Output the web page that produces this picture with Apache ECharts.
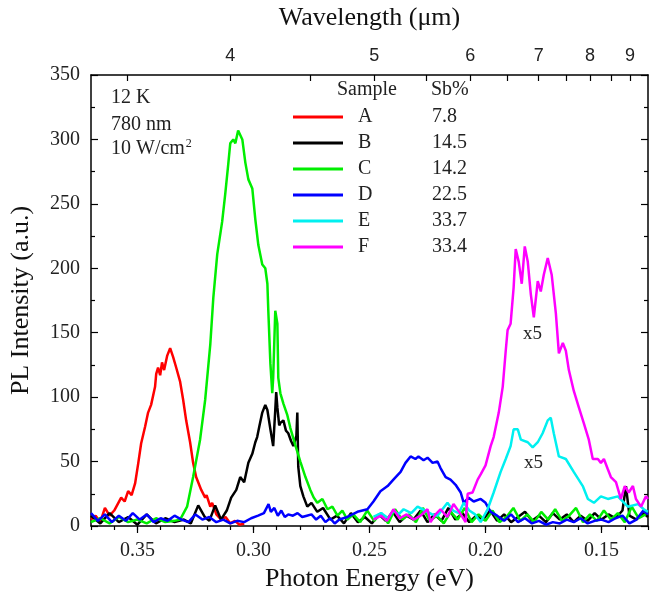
<!DOCTYPE html>
<html>
<head>
<meta charset="utf-8">
<script src="https://cdn.jsdelivr.net/npm/echarts@6/dist/echarts.min.js"></script>
<style>
  html, body { margin: 0; padding: 0; background: #fff; }
  #chart { width: 651px; height: 597px; }
</style>
</head>
<body>
<div id="chart"></div>
<script>
// photon energy (eV) / PL intensity (a.u.) per sample
const eA = [0.370,0.368,0.366,0.364,0.362,0.360,0.3585,0.357,0.3555,0.354,0.3525,0.351,0.3497,0.3484,0.3467,0.3454,0.3441,0.3424,0.3419,0.3411,0.3402,0.3394,0.3385,0.3372,0.3359,0.3346,0.3333,0.3316,0.3303,0.329,0.3273,0.326,0.3247,0.3225,0.3208,0.3202,0.3186,0.3178,0.316,0.3139,0.312,0.310,0.308,0.306,0.304];
const iA = [5,8,3,14,8,12,17,22,19,27,24,33,48,64,77,88,94,108,118,123,117,127,121,132,138,131,123,112,98,82,65,49,38,28,22,24,15,18,9,5,7,2,4,1,2];

const eB = [0.370,0.366,0.362,0.358,0.354,0.350,0.346,0.342,0.338,0.334,0.330,0.327,0.3238,0.321,0.319,0.3165,0.314,0.3115,0.3096,0.3074,0.3057,0.304,0.3022,0.3005,0.2992,0.2984,0.2975,0.2962,0.2949,0.294,0.2927,0.2915,0.2906,0.2902,0.2897,0.2889,0.2884,0.2871,0.286,0.285,0.2838,0.2828,0.2815,0.2811,0.2807,0.2798,0.2785,0.2768,0.275,0.2725,0.270,0.2668,0.264,0.261,0.258,0.255,0.252,0.249,0.246,0.243,0.240,0.237,0.234,0.231,0.228,0.225,0.222,0.219,0.216,0.213,0.210,0.207,0.204,0.201,0.198,0.195,0.192,0.189,0.186,0.183,0.180,0.177,0.174,0.171,0.168,0.165,0.162,0.159,0.156,0.153,0.150,0.147,0.144,0.141,0.1395,0.138,0.135,0.132,0.130];
const iB = [8,2,10,3,7,1,9,2,6,3,5,2,16,7,4,16,5,12,22,28,38,34,49,56,65,69,77,88,94,90,75,62,90,104,92,78,80,82,74,72,66,62,70,88,46,31,23,15,18,11,14,5,8,2,10,3,7,2,9,4,11,3,8,5,12,3,9,4,14,5,10,3,8,5,12,4,9,3,7,11,4,8,3,10,5,9,3,8,4,10,5,9,6,12,31,8,5,10,7];

const eC = [0.370,0.366,0.362,0.358,0.354,0.350,0.346,0.342,0.338,0.334,0.3316,0.3286,0.326,0.323,0.3208,0.3186,0.3173,0.3156,0.3135,0.3122,0.3109,0.310,0.3087,0.3078,0.3066,0.3048,0.3035,0.3022,0.3005,0.2992,0.2979,0.2962,0.2949,0.294,0.2936,0.2927,0.2919,0.2915,0.2906,0.2897,0.2893,0.2884,0.2871,0.2854,0.2841,0.282,0.2798,0.2776,0.2755,0.274,0.2725,0.2703,0.2681,0.266,0.2638,0.2617,0.2595,0.257,0.254,0.251,0.248,0.245,0.242,0.239,0.236,0.233,0.230,0.227,0.224,0.221,0.218,0.215,0.212,0.209,0.206,0.203,0.200,0.197,0.194,0.191,0.188,0.185,0.182,0.179,0.176,0.173,0.170,0.167,0.164,0.161,0.158,0.155,0.152,0.149,0.146,0.143,0.140,0.137,0.134,0.131];
const iC = [3,6,2,7,3,5,2,6,3,4,5,15,38,67,98,141,177,211,236,257,280,297,300,297,307,300,282,269,262,238,218,203,200,188,167,126,103,115,167,157,115,103,95,86,76,63,50,38,28,22,18,21,13,15,8,12,5,9,3,12,4,10,2,13,5,9,3,14,4,8,2,11,5,14,3,9,4,12,3,7,14,4,9,3,11,5,13,4,8,14,3,9,4,12,5,10,3,15,6,9];

const eD = [0.370,0.367,0.364,0.361,0.358,0.355,0.352,0.349,0.346,0.343,0.340,0.337,0.334,0.331,0.328,0.325,0.322,0.319,0.316,0.313,0.310,0.307,0.304,0.301,0.298,0.2955,0.2935,0.2925,0.291,0.2895,0.288,0.2865,0.285,0.283,0.281,0.279,0.277,0.275,0.273,0.271,0.269,0.267,0.265,0.263,0.2595,0.2552,0.2509,0.2483,0.2453,0.2422,0.2397,0.2366,0.2345,0.2323,0.2302,0.2289,0.2267,0.225,0.2228,0.2207,0.2194,0.2172,0.2151,0.2129,0.2107,0.2094,0.2073,0.2051,0.2021,0.200,0.1978,0.195,0.192,0.189,0.186,0.183,0.180,0.177,0.174,0.171,0.168,0.165,0.162,0.159,0.156,0.153,0.150,0.147,0.144,0.141,0.138,0.135,0.132,0.130];
const iD = [10,4,9,3,8,4,10,5,9,3,6,4,8,5,3,9,5,7,3,5,2,4,3,6,8,10,17,11,14,8,12,7,9,8,10,7,8,9,5,8,3,6,2,5,7,11,13,19,27,31,36,42,49,54,52,54,51,53,49,50,45,38,36,32,26,18,22,19,21,18,11,8,4,9,3,6,2,4,1,3,2,5,3,6,2,4,5,3,6,8,2,5,12,9];

const eE = [0.2483,0.245,0.242,0.2397,0.2375,0.2353,0.232,0.2293,0.226,0.223,0.2207,0.219,0.2164,0.214,0.2115,0.2094,0.207,0.2045,0.2021,0.1991,0.1965,0.1935,0.1913,0.1892,0.1879,0.1861,0.1848,0.1818,0.1797,0.1775,0.1754,0.1732,0.1719,0.1706,0.1684,0.1654,0.162,0.1581,0.1559,0.1533,0.1503,0.1473,0.143,0.1387,0.1343,0.1318,0.130];
const iE = [7,10,6,12,9,13,10,15,12,9,8,12,18,12,10,18,12,9,3,13,26,42,52,62,75,75,67,65,61,65,72,82,84,72,54,52,42,31,21,18,23,21,23,15,17,13,11];

const eF = [0.2483,0.245,0.2425,0.2397,0.237,0.234,0.231,0.228,0.225,0.2237,0.2215,0.2194,0.2165,0.2138,0.211,0.2086,0.2077,0.2056,0.2034,0.2021,0.200,0.1978,0.1965,0.1943,0.1926,0.1913,0.1905,0.1892,0.1879,0.187,0.1857,0.1844,0.1831,0.1818,0.1805,0.1792,0.1775,0.1762,0.1749,0.1732,0.1715,0.1697,0.1684,0.1667,0.1654,0.1641,0.162,0.1598,0.1577,0.1555,0.1538,0.1516,0.1503,0.149,0.1473,0.146,0.1438,0.1417,0.140,0.1383,0.1365,0.1352,0.133,0.1309,0.130];
const iF = [5,8,4,13,6,9,5,8,13,3,9,13,7,17,10,3,25,26,36,40,47,62,69,88,108,136,152,157,185,215,205,188,217,205,180,162,190,182,195,208,195,165,134,142,136,121,105,92,80,67,52,52,49,52,44,38,34,21,31,26,31,21,15,23,21];

const samples = ["A", "B", "C", "D", "E", "F"];
const sbPct = ["7.8", "14.5", "14.2", "22.5", "33.7", "33.4"];
const colors = ["#ff0000", "#000000", "#00ee00", "#0000ff", "#00f0f0", "#ff00ff"];
const energies = [eA, eB, eC, eD, eE, eF];
const intensities = [iA, iB, iC, iD, iE, iF];

// tick labels
const energyTicks = [0.15, 0.20, 0.25, 0.30, 0.35];
const wlLabels = [4, 5, 6, 7, 8, 9];
const wlTicks = [3.5, 4, 4.5, 5, 5.5, 6, 6.5, 7, 7.5, 8, 8.5, 9];
const HC = 1.2398; // eV*um

const serif = "Liberation Serif";
const chart = echarts.init(document.getElementById("chart"));

const axisBase = {
  type: "value",
  min: 0.13,
  max: 0.37,
  inverse: true,
  splitLine: { show: false }
};

chart.setOption({
  animation: false,
  backgroundColor: "#fff",
  grid: { left: 91, right: 3, top: 72, bottom: 70 },
  legend: {
    orient: "vertical",
    left: 293,
    top: 107,
    padding: 0,
    icon: "rect",
    itemWidth: 50,
    itemHeight: 3,
    itemGap: 6,
    data: samples,
    formatter: function (name) {
      return "{n|" + name + "}{v|" + sbPct[samples.indexOf(name)] + "}";
    },
    textStyle: {
      fontFamily: serif,
      fontSize: 20,
      color: "#222",
      rich: {
        n: { width: 74, padding: [0, 0, 0, 10], fontFamily: serif, fontSize: 20 },
        v: { fontFamily: serif, fontSize: 20 }
      }
    }
  },
  graphic: [
    { type: "text", left: 337, top: 80, style: { text: "Sample", font: "20px " + serif, fill: "#222" } },
    { type: "text", left: 431, top: 80, style: { text: "Sb%", font: "20px " + serif, fill: "#222" } },
    { type: "text", left: 111, top: 88, style: { text: "12 K", font: "20px " + serif, fill: "#222" } },
    { type: "text", left: 111, top: 115, style: { text: "780 nm", font: "20px " + serif, fill: "#222" } },
    {
      type: "text", left: 111, top: 138,
      style: {
        text: "{t|10 W/cm}{s|2}",
        rich: {
          t: { font: "20px " + serif, fill: "#222", verticalAlign: "bottom" },
          s: { font: "12px " + serif, fill: "#222", verticalAlign: "top", padding: [0, 0, 9, 1] }
        }
      }
    },
    { type: "text", left: 523, top: 325, style: { text: "x5", font: "19px " + serif, fill: "#222" } },
    { type: "text", left: 524, top: 454, style: { text: "x5", font: "19px " + serif, fill: "#222" } }
  ],
  xAxis: [
    Object.assign({}, axisBase, {
      position: "bottom",
      name: "Photon Energy (eV)",
      nameLocation: "middle",
      nameGap: 40,
      nameTextStyle: { fontFamily: serif, fontSize: 26, color: "#111" },
      axisLine: { lineStyle: { color: "#000", width: 1.5 } },
      axisTick: { customValues: energyTicks, length: 7, lineStyle: { color: "#000", width: 1.2 } },
      axisLabel: {
        customValues: energyTicks,
        margin: 15,
        fontFamily: serif,
        fontSize: 20,
        color: "#222",
        formatter: function (v) { return v.toFixed(2); }
      }
    }),
    Object.assign({}, axisBase, {
      position: "bottom",
      interval: 0.01,
      axisLine: { show: false },
      axisTick: { length: 4, lineStyle: { color: "#000", width: 1.2 } },
      axisLabel: { show: false }
    }),
    Object.assign({}, axisBase, {
      position: "top",
      name: "Wavelength (\u03bcm)",
      nameLocation: "middle",
      nameGap: 44,
      nameTextStyle: { fontFamily: serif, fontSize: 26, color: "#111" },
      axisLine: { lineStyle: { color: "#000", width: 1.5 } },
      axisTick: {
        inside: true,
        length: 6,
        customValues: wlTicks.map(function (w) { return HC / w; }),
        lineStyle: { color: "#000", width: 1.2 }
      },
      axisLabel: {
        customValues: wlLabels.map(function (w) { return HC / w; }),
        margin: 10,
        fontFamily: "Liberation Sans",
        fontSize: 18,
        color: "#222",
        formatter: function (v) { return String(Math.round(HC / v)); }
      }
    })
  ],
  yAxis: [
    {
      type: "value",
      position: "left",
      min: 0,
      max: 350,
      interval: 50,
      name: "PL Intensity (a.u.)",
      nameLocation: "middle",
      nameGap: 57,
      nameTextStyle: { fontFamily: serif, fontSize: 26, color: "#111" },
      splitLine: { show: false },
      axisLine: { show: true, lineStyle: { color: "#000", width: 1.5 } },
      axisTick: { show: true, inside: true, length: 7, lineStyle: { color: "#000", width: 1.2 } },
      minorTick: { show: true, splitNumber: 2, length: 4, lineStyle: { color: "#000", width: 1.2 } },
      axisLabel: { margin: 11, fontFamily: serif, fontSize: 20, color: "#222" }
    },
    {
      type: "value",
      position: "right",
      min: 0,
      max: 350,
      interval: 50,
      splitLine: { show: false },
      axisLine: { show: true, lineStyle: { color: "#000", width: 1.5 } },
      axisTick: { show: true, inside: true, length: 7, lineStyle: { color: "#000", width: 1.2 } },
      minorTick: { show: true, splitNumber: 2, length: 4, lineStyle: { color: "#000", width: 1.2 } },
      axisLabel: { show: false }
    }
  ],
  series: samples.map(function (name, k) {
    return {
      name: name,
      type: "line",
      xAxisIndex: 0,
      yAxisIndex: 0,
      symbol: "none",
      showSymbol: false,
      color: colors[k],
      lineStyle: { color: colors[k], width: 2.5 },
      data: energies[k].map(function (e, i) { return [e, intensities[k][i]]; })
    };
  })
});
</script>
</body>
</html>
